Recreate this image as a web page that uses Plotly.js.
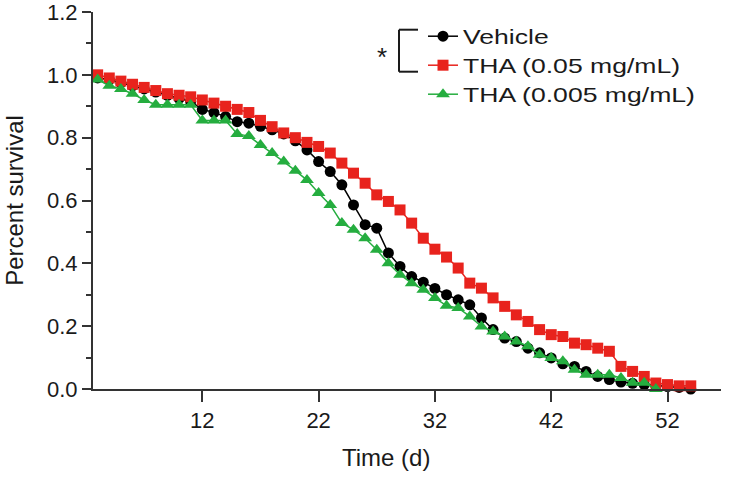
<!DOCTYPE html>
<html>
<head>
<meta charset="utf-8">
<script src="https://cdn.plot.ly/plotly-3.0.1.min.js"></script>
<style>
html,body{margin:0;padding:0;background:#fff;}
#chart{width:729px;height:479px;}
#chart .legendtext{transform-box:fill-box;transform-origin:0% 50%;transform:scaleX(1.33);}
#chart .legend .scrollbox, #chart .legend{clip-path:none !important;}
</style>
</head>
<body>
<div id="chart"></div>
<script>
// Time in days
const days = [3,4,5,6,7,8,9,10,11,12,13,14,15,16,17,18,19,20,21,22,23,24,25,26,27,28,29,30,31,32,33,34,35,36,37,38,39,40,41,42,43,44,45,46,47,48,49,50,51,52,53,54];
const vehicle = [0.99,0.985,0.975,0.965,0.955,0.945,0.935,0.925,0.915,0.89,0.88,0.867,0.851,0.846,0.836,0.825,0.812,0.79,0.761,0.724,0.692,0.65,0.586,0.523,0.512,0.433,0.39,0.358,0.34,0.32,0.30,0.284,0.268,0.226,0.189,0.162,0.151,0.13,0.115,0.099,0.08,0.072,0.056,0.04,0.03,0.022,0.018,0.014,0.01,0.008,0.005,0.0];
const tha005 = [1.0,0.99,0.98,0.97,0.96,0.95,0.94,0.935,0.93,0.92,0.91,0.90,0.89,0.88,0.855,0.835,0.815,0.80,0.785,0.772,0.751,0.719,0.687,0.655,0.618,0.597,0.57,0.528,0.48,0.445,0.42,0.385,0.337,0.321,0.29,0.263,0.236,0.215,0.189,0.173,0.167,0.146,0.141,0.13,0.12,0.072,0.056,0.04,0.019,0.014,0.01,0.01];
const days0005 = [3,4,5,6,7,8,9,10,11,12,13,14,15,16,17,18,19,20,21,22,23,24,25,26,27,28,29,30,31,32,33,34,35,36,37,38,39,40,41,42,43,44,45,46,47,48,49,50,51];
const tha0005 = [0.985,0.965,0.955,0.94,0.92,0.905,0.905,0.905,0.905,0.855,0.855,0.855,0.812,0.805,0.777,0.751,0.724,0.695,0.665,0.624,0.586,0.528,0.507,0.48,0.443,0.40,0.364,0.337,0.316,0.29,0.265,0.258,0.231,0.199,0.183,0.167,0.151,0.136,0.109,0.099,0.088,0.061,0.045,0.045,0.045,0.035,0.02,0.02,0.0];
const seriesNames = ['Vehicle','THA (0.05 mg/mL)','THA (0.005 mg/mL)'];
const xTicks = [12,22,32,42,52];
const xTitle = 'Time (d)';
const yTitle = 'Percent survival';

const FONT = 'Liberation Sans, Arial, sans-serif';
const TXT = '#1a1a1a';
const traces = [
  {x: days, y: vehicle, name: seriesNames[0], type:'scatter', mode:'lines+markers', cliponaxis:false,
   line:{color:'#000000', width:1.5}, marker:{symbol:'circle', size:11, color:'#000000'}},
  {x: days, y: tha005, name: seriesNames[1], type:'scatter', mode:'lines+markers', cliponaxis:false,
   line:{color:'#e8231d', width:1.5}, marker:{symbol:'square', size:11, color:'#e8231d'}},
  {x: days0005, y: tha0005, name: seriesNames[2], type:'scatter', mode:'lines+markers', cliponaxis:false,
   line:{color:'#25ad3f', width:1.5}, marker:{symbol:'triangle-up', size:12, color:'#25ad3f'}}
];

// paper-coordinate helpers for the decorations (plot area: 93..721 x 12.4..389.3 px)
const px = v => (v-93)/628, py = v => (389.3-v)/377;

const layout = {
  width:729, height:479,
  margin:{l:93, r:8, t:12, b:90},
  paper_bgcolor:'#ffffff', plot_bgcolor:'#ffffff',
  font:{family:FONT, color:TXT, size:22},
  showlegend:true,
  legend:{x:px(423), y:py(17), xanchor:'left', yanchor:'top', bgcolor:'rgba(0,0,0,0)',
          font:{family:FONT, size:20, color:TXT}, tracegroupgap:0},
  xaxis:{range:[2.6,56.6], tickmode:'array', tickvals:xTicks, ticktext:xTicks.map(String),
         showline:true, linecolor:'#333', linewidth:2, ticks:'outside', ticklen:11, tickwidth:2, tickcolor:'#333',
         showgrid:false, zeroline:false, tickfont:{size:22}, ticklabeloverflow:'allow'},
  yaxis:{range:[0,1.2], dtick:0.2, tick0:0, tickformat:'.1f',
         showline:true, linecolor:'#333', linewidth:2, ticks:'outside', ticklen:9, tickwidth:2, tickcolor:'#333',
         minor:{dtick:0.1, ticklen:5, tickwidth:2, tickcolor:'#333', ticks:'outside'},
         showgrid:false, zeroline:false, tickfont:{size:22}, ticklabeloverflow:'allow',
         title:{text:yTitle, font:{size:24}, standoff:17}},
  annotations:[
    {text:xTitle, xref:'paper', yref:'paper', x:px(386), y:py(458), showarrow:false,
     font:{size:24, color:TXT, family:FONT}, xanchor:'center', yanchor:'middle'},
    {text:'*', xref:'paper', yref:'paper', x:px(382), y:py(57), showarrow:false,
     font:{size:26, color:TXT, family:FONT}, xanchor:'center', yanchor:'middle'}
  ],
  // bracket joining Vehicle and THA (0.05 mg/mL) in the legend
  shapes:[
    {type:'line', xref:'paper', yref:'paper', x0:px(399), x1:px(399), y0:py(30), y1:py(72), line:{color:TXT, width:2}},
    {type:'line', xref:'paper', yref:'paper', x0:px(399), x1:px(418), y0:py(30), y1:py(30), line:{color:TXT, width:2}},
    {type:'line', xref:'paper', yref:'paper', x0:px(399), x1:px(418), y0:py(72), y1:py(72), line:{color:TXT, width:2}}
  ]
};
Plotly.newPlot('chart', traces, layout, {displayModeBar:false, staticPlot:true});
</script>
</body>
</html>
